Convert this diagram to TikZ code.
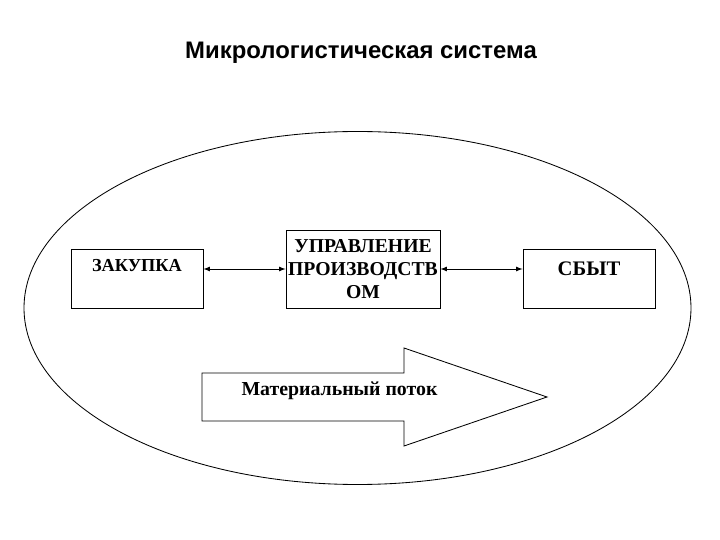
\documentclass[tikz,border=0pt]{standalone}
\usepackage{fontspec}
\setmainfont{Liberation Serif}
\newfontfamily\titlefont{Liberation Sans}
\usepackage{tikz}
\usetikzlibrary{calc}
\usetikzlibrary{arrows, shapes}

\begin{document}
\begin{tikzpicture}[scale = 1]

\tikzstyle{box_P}=[rectangle, draw=black, line width = 0.6pt, fill=white, inner sep = 0pt]
\tikzstyle{text_P}=[font=\bfseries, inner sep = 0pt, align = center]

\useasboundingbox (0, 0) rectangle (18, 13.5);

\coordinate (E) at (8.9375, 5.8);
\coordinate (Z) at (3.425, 6.5375);
\coordinate (U) at (9.075, 6.775);
\coordinate (S) at (14.725, 6.5375);
\coordinate (F) at (5.05, 3.575);
\coordinate (T) at (9.025, 12.17);

% ellipse
\draw[line width = 0.6pt, color = black] (E) ellipse (8.3375 and 4.4125);

\path
($(Z)$) node[box_P, minimum width = 3.3cm, minimum height = 1.475cm](zak) {}
($(U)$) node[box_P, minimum width = 3.85cm, minimum height = 1.95cm](upr) {}
($(S)$) node[box_P, minimum width = 3.3cm, minimum height = 1.475cm](sbyt) {}
($(zak.north) + (0, -0.42)$) node[text_P, font=\bfseries\fontsize{13}{15}\selectfont](zak_t) {ЗАКУПКА}
($(upr.center) + (0, 0.0)$) node[text_P, font=\bfseries\fontsize{14}{16.2}\selectfont](upr_t) {УПРАВЛЕНИЕ\\ПРОИЗВОДСТВ\\ОМ}
($(sbyt.north) + (0, -0.5)$) node[text_P, font=\bfseries\fontsize{14.7}{17}\selectfont](sbyt_t) {СБЫТ}
($(T)$) node[font=\titlefont\bfseries\fontsize{17}{20}\selectfont](title) {Микрологистическая система};

% material flow arrow
\draw[line width = 0.6pt, color = black, fill = white]
  ($(F) + (0, 0.6)$) coordinate (f1) -- ($(F) + (5.05, 0.6)$) -- ($(F) + (5.05, 1.225)$)
  -- ($(F) + (8.625, 0)$) coordinate (ftip) -- ($(F) + (5.05, -1.225)$)
  -- ($(F) + (5.05, -0.6)$) -- ($(F) + (0, -0.6)$) -- cycle;
\path ($(F) + (3.4375, 0.15)$) node[text_P, font=\bfseries\fontsize{14.1}{16}\selectfont](flow) {Материальный поток};

%arrows
\draw[latex-latex, line width = 0.6pt, color = black] (zak.east |- upr.center) to (upr.west);
\draw[latex-latex, line width = 0.6pt, color = black] (upr.east) to (sbyt.west |- upr.center);

\end{tikzpicture}
\end{document}
